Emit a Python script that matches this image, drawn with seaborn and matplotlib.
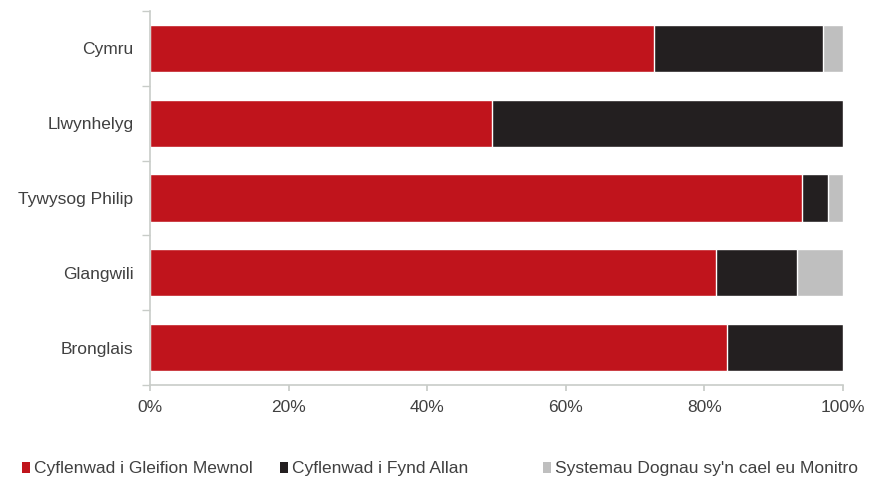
import matplotlib
matplotlib.use("Agg")
import matplotlib.pyplot as plt
import seaborn as sns
import numpy as np
import pandas as pd
from matplotlib.patches import Patch
from matplotlib.ticker import PercentFormatter, FixedLocator

categories = ["Cymru", "Llwynhelyg", "Tywysog Philip", "Glangwili", "Bronglais"]
mewnol = [72.7, 49.3, 94.1, 81.7, 83.3]
allan = [24.4, 50.7, 3.8, 11.6, 16.7]
monitro = [2.9, 0.0, 2.1, 6.7, 0.0]
series_names = ["Cyflenwad i Gleifion Mewnol", "Cyflenwad i Fynd Allan",
                "Systemau Dognau sy'n cael eu Monitro"]
colors = ["#C0141C", "#231F20", "#BFBFBF"]

sns.set_theme(style="white")
plt.rcParams["font.family"] = ["Liberation Sans", "DejaVu Sans"]

df = pd.DataFrame({"cat": categories, "m": mewnol, "a": allan, "s": monitro})
df["c1"] = df["m"]
df["c2"] = df["m"] + df["a"]
df["c3"] = df["m"] + df["a"] + df["s"]

fig = plt.figure(figsize=(8.7, 4.83), dpi=100)
ax = fig.add_axes([150/870, 1-385/483, (843-150)/870, (385-11)/483])

for col, colr in zip(["c3", "c2", "c1"], colors[::-1]):
    sns.barplot(data=df, y="cat", x=col, color=colr, orient="h", width=0.63,
                ax=ax, saturation=1, order=categories)

ax.set_xlim(0, 100)
ax.set_ylim(len(categories) - 0.5, -0.5)
ax.set_xticks([0, 20, 40, 60, 80, 100])
ax.xaxis.set_major_formatter(PercentFormatter(decimals=0))
ax.yaxis.set_minor_locator(FixedLocator(np.arange(-0.5, len(categories), 1.0)))
ax.set_xlabel("")
ax.set_ylabel("")
for s in ["top", "right"]:
    ax.spines[s].set_visible(False)
for s in ["left", "bottom"]:
    ax.spines[s].set_color("#C8CCC8")
    ax.spines[s].set_linewidth(1.2)
ax.tick_params(axis="x", colors="#404040", labelsize=12.5, length=4, direction="out",
               color="#C8CCC8", pad=7, bottom=True)
ax.tick_params(axis="y", which="major", colors="#404040", labelsize=12.5, length=0, pad=12)
ax.tick_params(axis="y", which="minor", length=6, direction="out", color="#C8CCC8",
               left=True)
for lbl in ax.get_xticklabels() + ax.get_yticklabels():
    lbl.set_color("#404040")

legend_x = [22/870, 280/870, 543/870]
for name, colr, lx in zip(series_names, colors, legend_x):
    leg = fig.legend([Patch(facecolor=colr, edgecolor="none")], [name],
                     loc="center left", bbox_to_anchor=(lx, 1-469/483),
                     frameon=False, fontsize=12.5, handlelength=0.45, handleheight=0.55,
                     handletextpad=0.25, borderaxespad=0, borderpad=0,
                     labelcolor="#404040")

fig.savefig("out.png", dpi=100)
